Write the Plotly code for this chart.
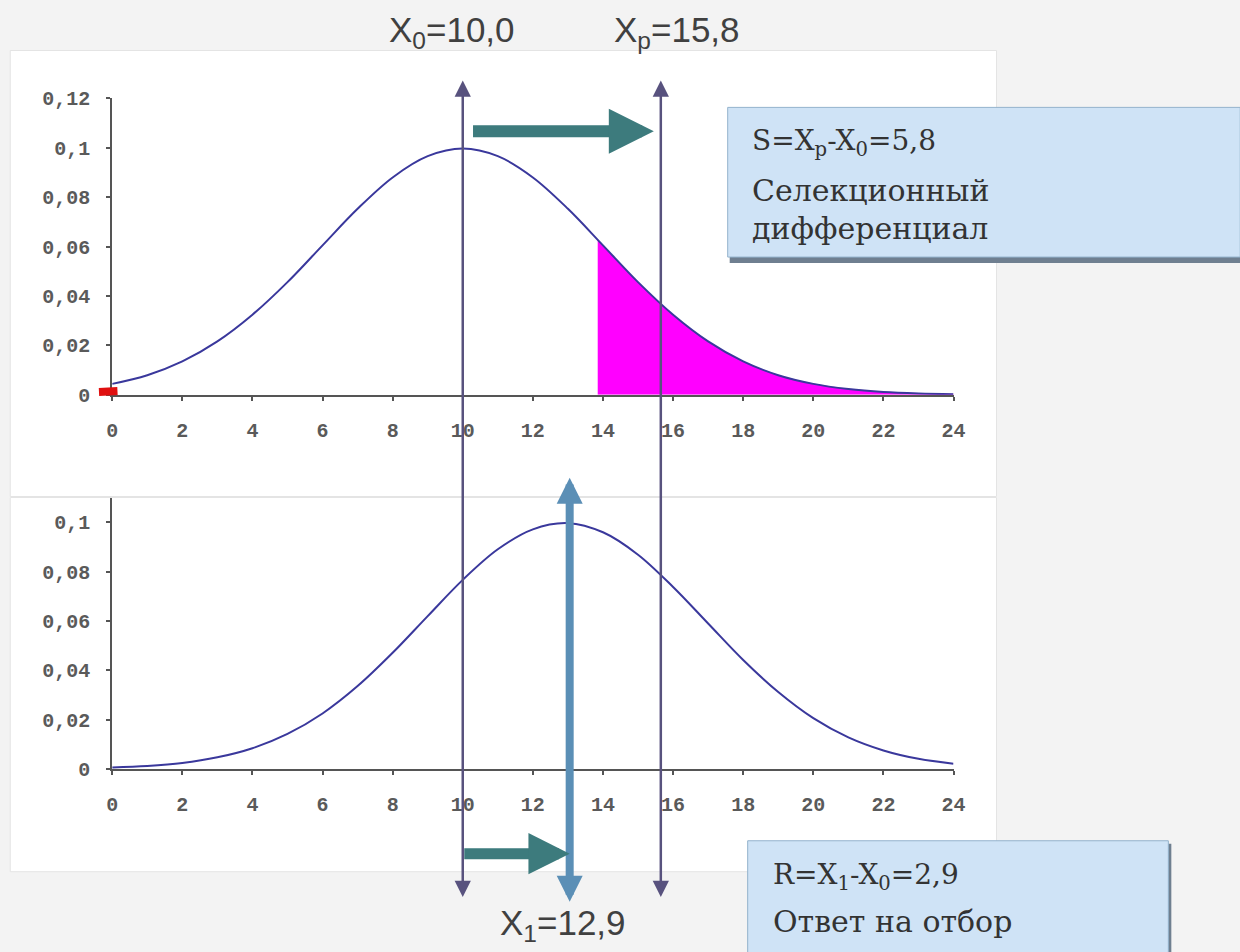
import plotly.graph_objects as go
from plotly.subplots import make_subplots

# values
x_values = list(range(0, 25))
parents_density = [0.0044, 0.0079, 0.0135, 0.0216, 0.0324, 0.0456, 0.0605, 0.0753,
                   0.0880, 0.0966, 0.0997, 0.0966, 0.0880, 0.0753, 0.0605, 0.0456,
                   0.0324, 0.0216, 0.0135, 0.0079, 0.0044, 0.0023, 0.0011, 0.0005, 0.0002]
offspring_density = [0.0006, 0.0012, 0.0024, 0.0047, 0.0084, 0.0142, 0.0225, 0.0336,
                     0.0471, 0.0620, 0.0767, 0.0891, 0.0972, 0.0997, 0.0960, 0.0869,
                     0.0738, 0.0590, 0.0442, 0.0312, 0.0206, 0.0128, 0.0075, 0.0041, 0.0021]
selected_x = [13.85, 14.5, 15, 16, 17, 18, 19, 20, 21, 22, 23, 24]
selected_density = [0.0627, 0.0530, 0.0456, 0.0324, 0.0216, 0.0135, 0.0079, 0.0044,
                    0.0023, 0.0011, 0.0005, 0.0002]

x_ticks = list(range(0, 25, 2))
y_ticks_top = [0, 0.02, 0.04, 0.06, 0.08, 0.1, 0.12]
y_labels_top = ["0", "0,02", "0,04", "0,06", "0,08", "0,1", "0,12"]
y_ticks_bottom = [0, 0.02, 0.04, 0.06, 0.08, 0.1]
y_labels_bottom = ["0", "0,02", "0,04", "0,06", "0,08", "0,1"]

# where the vertical markers are drawn on the x scale, and their labels
x0_pos, xp_pos, x1_pos = 10.0, 15.65, 13.05
x0_label = "X<sub>0</sub>=10,0"
xp_label = "X<sub>p</sub>=15,8"
x1_label = "X<sub>1</sub>=12,9"
s_lines = ["S=X<sub>p</sub>-X<sub>0</sub>=5,8", "Селекционный", "дифференциал"]
r_lines = ["R=X<sub>1</sub>-X<sub>0</sub>=2,9", "Ответ на отбор"]

# small red mark at the origin of the upper chart
red_x = 0.15
red_y = 0.0015

W, H = 1240, 952
CURVE = "#3a389c"
THIN = "#58527e"
TEAL = "#3d7b7d"
STEEL = "#5b8fb6"


def px(x):
    """Picture pixel column -> paper fraction."""
    return ((x - 5.7) / 0.9863) / W


def py(y):
    """Picture pixel row -> paper fraction."""
    return 1 - ((y - 9.4) / 0.978) / H


def arrow(x_head, y_head, x_tail, y_tail, color, width, size, both=False):
    """Arrow from tail to head; x in data units, y in picture pixels."""
    a = dict(x=x_head, y=py(y_head), xref="x", yref="paper",
             ax=x_tail, axref="x", ay=(y_tail - y_head) / 0.978, ayref="pixel",
             text="", showarrow=True, arrowhead=2, arrowsize=size,
             arrowwidth=width, arrowcolor=color, standoff=0)
    if both:
        a.update(arrowside="end+start", startarrowhead=2, startarrowsize=size,
                 startstandoff=0)
    return a


fig = make_subplots(rows=2, cols=1)

fig.add_trace(go.Scatter(x=selected_x, y=selected_density, mode="lines",
                         line=dict(color="#ff00ff", width=0.5, shape="spline"),
                         fill="tozeroy", fillcolor="#ff00ff"), row=1, col=1)
fig.add_trace(go.Scatter(x=x_values, y=parents_density, mode="lines",
                         line=dict(color=CURVE, width=2, shape="spline")), row=1, col=1)
fig.add_trace(go.Scatter(x=x_values, y=offspring_density, mode="lines",
                         line=dict(color=CURVE, width=2, shape="spline")), row=2, col=1)

axis_style = dict(showgrid=False, zeroline=False, showline=True, linecolor="#555555",
                  linewidth=2, ticks="outside", ticklen=4, tickcolor="#555555",
                  tickwidth=1.5, ticklabelstandoff=12,
                  tickfont=dict(family="Liberation Mono", size=20, color="#5a5a5a",
                                weight="bold"))

x_dom = [px(112), px(954)]
fig.update_xaxes(axis_style, range=[0, 24], tickvals=x_ticks, domain=x_dom)
fig.update_yaxes(axis_style)
fig.update_layout(
    yaxis=dict(domain=[py(395), py(98)], range=[0, 0.12],
               tickvals=y_ticks_top, ticktext=y_labels_top),
    yaxis2=dict(domain=[py(770), py(498)], range=[0, 0.1101],
                tickvals=y_ticks_bottom, ticktext=y_labels_bottom),
)

shapes = [
    # white chart panels
    dict(type="rect", xref="paper", yref="paper", x0=px(10), x1=px(997),
         y0=py(497), y1=py(50), fillcolor="white", line=dict(color="#e4e4e4", width=1),
         layer="below"),
    dict(type="rect", xref="paper", yref="paper", x0=px(10), x1=px(997),
         y0=py(873), y1=py(498), fillcolor="white", line=dict(color="#e4e4e4", width=1),
         layer="below"),
    # text boxes with shadow
    dict(type="rect", xref="paper", yref="paper", x0=px(730), x1=1.02,
         y0=py(263), y1=py(111), fillcolor="#6f7f90", line=dict(width=0)),
    dict(type="rect", xref="paper", yref="paper", x0=px(728), x1=1.01,
         y0=py(257), y1=py(107), fillcolor="#cfe3f6", line=dict(color="#93b2cc", width=1)),
    dict(type="rect", xref="paper", yref="paper", x0=px(750), x1=px(1172),
         y0=-0.02, y1=py(845), fillcolor="#6f7f90", line=dict(width=0)),
    dict(type="rect", xref="paper", yref="paper", x0=px(748), x1=px(1169),
         y0=-0.02, y1=py(842), fillcolor="#cfe3f6", line=dict(color="#93b2cc", width=1)),
]

annotations = [
    # red stub at the origin
    dict(x=red_x, y=red_y, xref="x", yref="y", ax=-20, ay=1, axref="pixel",
         ayref="pixel", text="", showarrow=True, arrowhead=0, arrowwidth=8,
         arrowcolor="#e01010", standoff=0),
    arrow(x0_pos, 80, x0_pos, 880, THIN, 2.5, 1.3, both=True),
    arrow(xp_pos, 80, xp_pos, 880, THIN, 2.5, 1.3, both=True),
    arrow(x1_pos, 903, x1_pos, 487, STEEL, 8, 0.65, both=True),
    arrow(xp_pos - 0.2, 131, x0_pos + 0.25, 131, TEAL, 12, 0.75),
    arrow(x1_pos, 855, x0_pos, 855, TEAL, 11, 0.75),
]

label_font = dict(family="Liberation Sans", size=35, color="#404040")
for text, xc, yc in [(x0_label, 452, 31), (xp_label, 677, 31), (x1_label, 563, 926)]:
    annotations.append(dict(text=text, x=px(xc), y=py(yc), xref="paper", yref="paper",
                            showarrow=False, font=label_font,
                            xanchor="center", yanchor="middle"))

formula_font = dict(family="DejaVu Serif", size=28, color="#333333")
word_font = dict(family="DejaVu Serif", size=30, color="#333333")
box_texts = list(zip(s_lines, [750] * 3, [142, 190, 228])) + \
    list(zip(r_lines, [771] * 2, [878, 923]))
for text, xl, yc in box_texts:
    annotations.append(dict(text=text, x=px(xl), y=py(yc), xref="paper", yref="paper",
                            showarrow=False,
                            font=formula_font if "=" in text else word_font,
                            xanchor="left", yanchor="middle"))

fig.update_layout(
    width=W, height=H,
    margin=dict(l=0, r=0, t=0, b=0),
    paper_bgcolor="#f3f3f3",
    plot_bgcolor="rgba(0,0,0,0)",
    showlegend=False,
    shapes=shapes,
    annotations=annotations,
)

fig.write_html("out.html", config={"displayModeBar": False},
               post_script="document.body.style.margin = '0';")
